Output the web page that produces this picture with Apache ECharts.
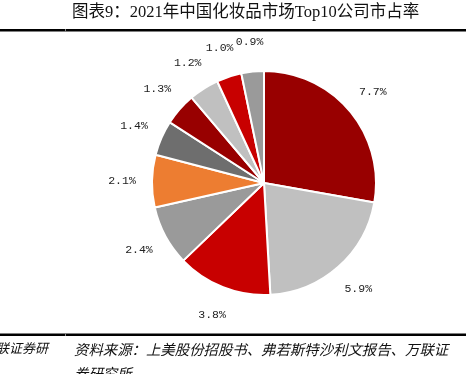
<!DOCTYPE html>
<html>
<head>
<meta charset="utf-8">
<script src="https://cdn.jsdelivr.net/npm/echarts@6/dist/echarts.min.js"></script>
<style>
html,body{margin:0;padding:0;background:#fff;}
#c{width:466px;height:374px;}
</style>
</head>
<body>
<div id="c"></div>
<script>
const companies = ['公司1','公司2','公司3','公司4','公司5','公司6','公司7','公司8','公司9','公司10'];
const shares = [7.7, 5.9, 3.8, 2.4, 2.1, 1.4, 1.3, 1.2, 1.0, 0.9];
const colors = ['#980000','#C0C0C0','#C80000','#9A9A9A','#ED7D31','#6E6E6E','#980000','#C0C0C0','#C80000','#9A9A9A'];
const titleText = '图表9：2021年中国化妆品市场Top10公司市占率';
const sourceText1 = '资料来源：上美股份招股书、弗若斯特沙利文报告、万联证';
const sourceText2 = '券研究所';
const leftFooter = '联证券研';

const pieData = companies.map((n, i) => ({name: n, value: shares[i], itemStyle: {color: colors[i]}}));
const labelData = companies.map((n, i) => ({name: n, value: shares[i]}));

const chart = echarts.init(document.getElementById('c'));
chart.setOption({
  animation: false,
  graphic: [
    {type:'text', x:72, y:4, style:{text:titleText, font:"16.5px 'Liberation Serif','Noto Sans CJK SC'", fill:'#111'}},
    {type:'rect', shape:{x:0,y:29,width:466,height:2.5}, style:{fill:'#000'}},
    {type:'rect', shape:{x:65,y:29,width:1,height:2.5}, style:{fill:'#888'}},
    {type:'rect', shape:{x:0,y:333.5,width:466,height:2.5}, style:{fill:'#000'}},
    {type:'rect', shape:{x:65,y:333.5,width:1,height:2.5}, style:{fill:'#888'}},
    {type:'text', x:-4, y:342, style:{text:leftFooter, font:"italic 13px 'Noto Sans CJK SC'", fill:'#111'}},
    {type:'text', x:74, y:342, style:{text:sourceText1, font:"italic 14.4px 'Noto Sans CJK SC'", fill:'#111'}},
    {type:'text', x:74, y:366, style:{text:sourceText2, font:"italic 14.4px 'Noto Sans CJK SC'", fill:'#111'}}
  ],
  series: [
    {
      type:'pie', center:[264,183], radius:112, startAngle:90, clockwise:true,
      data: pieData, silent:true,
      itemStyle:{borderColor:'#fff', borderWidth:2},
      label:{show:false}, labelLine:{show:false}
    },
    {
      type:'pie', center:[264,183], radius:[131,147], startAngle:90, clockwise:true,
      data: labelData, silent:true,
      itemStyle:{color:'rgba(0,0,0,0)'},
      label:{show:true, position:'inside', formatter: p => p.value.toFixed(1) + '%',
        fontFamily:"'Liberation Mono',monospace", fontSize:11.5, color:'#222'},
      labelLine:{show:false}
    }
  ]
});
</script>
</body>
</html>
